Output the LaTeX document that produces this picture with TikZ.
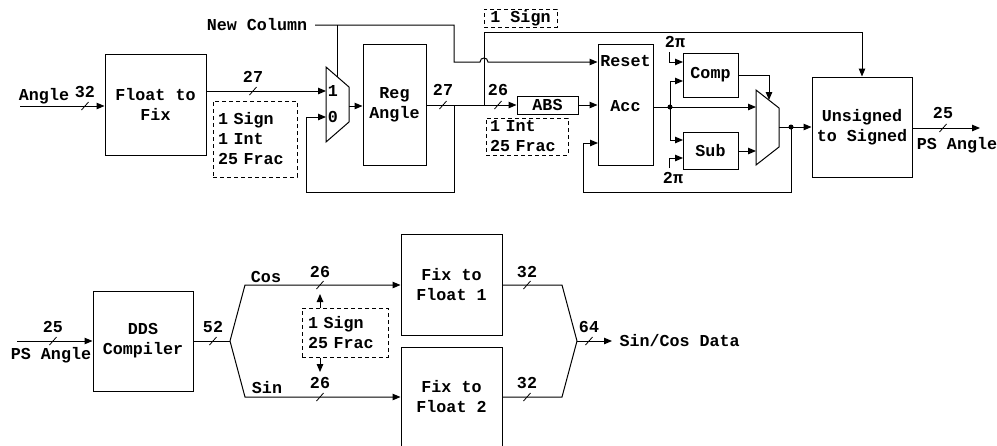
\documentclass[tikz,border=0pt]{standalone}
\usepackage{fontspec}
\setmainfont{Liberation Mono}
\usetikzlibrary{arrows.meta}
\newcommand\diagfont{\fontsize{16.7}{20}\selectfont\bfseries}
\tikzset{
  slash/.pic={\draw[line width=0.8pt] (-3.5,4) -- (3.5,-4);},
}
\begin{document}
\begin{tikzpicture}[x=1pt,y=-1pt, line width=1pt,
  every node/.style={font=\diagfont, inner sep=0pt},
  blk/.style={draw, rectangle, align=center},
  dbox/.style={draw, dashed, dash pattern=on 4pt off 3pt, rectangle, align=left},
  arr/.style={-{Triangle[length=8pt,width=6.5pt]}},
  dot/.style={circle, fill, minimum size=5pt, inner sep=0pt}]
\useasboundingbox (0,0) rectangle (997,445);
\clip (0,0) rectangle (997,445);

% ---------------- top chain ----------------
\node[blk, minimum width=101pt, minimum height=101pt] (ftf) at (155.5,104.5) {Float to\\Fix};
\node[blk, minimum width=63pt, minimum height=121pt] (reg) at (394.5,104.5) {Reg\\Angle};
\node[blk, minimum width=61pt, minimum height=18pt] (abs) at (547.5,105) {ABS};
\node[blk, minimum width=55pt, minimum height=121pt] (acc) at (625.5,104.5) {};
\node (reset) at (625.5,61) {Reset};
\node (acct) at (625.5,106) {Acc};
\node[blk, minimum width=55pt, minimum height=44pt] (comp) at (710.5,75) {Comp};
\node[blk, minimum width=55pt, minimum height=37pt] (sub) at (710.5,150.5) {Sub};
\node[blk, minimum width=100pt, minimum height=100pt] (uns) at (862,127) {Unsigned\\to Signed};

\node[dbox, minimum width=84pt, minimum height=76pt, text width=74pt] (d1) at (255,139) {1 Sign\\1 Int\\25 Frac};
\node[dbox, minimum width=73pt, minimum height=18pt] (d2) at (520.5,18) {1 Sign};
\node[dbox, minimum width=82pt, minimum height=37pt, text width=74pt] (d3) at (527,136.5) {1 Int\\25 Frac};

% mux 1
\draw (326,67) -- (349,87) -- (349,122) -- (326,142) -- cycle;
\coordinate (m1a) at (326,91);
\coordinate (m1b) at (326,117);
\coordinate (m1o) at (349,106);
\coordinate (m1t) at (337,76.6);
\node (m1l1) at (333,91) {1};
\node (m1l0) at (333,117) {0};

% mux 2
\draw (756,90) -- (779,108) -- (779,147) -- (756,165) -- cycle;
\coordinate (m2t) at (769,100);
\coordinate (m2o) at (779,127);

% labels
\node (angle) at (44,96) {Angle};
\coordinate (angin) at (20,106);
\node (n32a) at (85,92) {32};
\node (newcol) at (257,25) {New Column};
\node (n27a) at (253,77) {27};
\node (n27b) at (443,90) {27};
\node (n26a) at (498,90) {26};
\node (pi1) at (675,42) {2π};
\node (pi2) at (673,178) {2π};
\node (n25a) at (943,113) {25};
\node (psout) at (957,145) {PS Angle};

% connectors
\draw[arr] (angin) -- (angin -| ftf.west);
\pic at (85,106) {slash};
\draw[arr] (ftf.east |- m1a) -- (m1a);
\pic at (253,91) {slash};
\draw[arr] (m1o) -- (m1o -| reg.west);

\coordinate (nc0) at (315,25);
\coordinate (nc1) at (454,25);
\coordinate (nc2) at (454,62);
\draw[arr] (nc0) -- (nc1) -- (nc2) -- (480,62) .. controls (480,56.7) and (488,56.7) .. (488,62) -- (nc2 -| acc.west);
\draw (337,25) -- (m1t);

\coordinate (ro) at (426,105);
\draw[arr] (ro) -- (abs.west);
\pic at (443,105) {slash};
\pic at (498,105) {slash};
\draw[arr] (454,105) -- (454,192) -- (306,192) -- (306,117) -- (m1b);
\draw[arr] (484,105) -- (484,32) -- (862,32) -- (uns.north);

\draw[arr] (abs.east) -- (abs.east -| acc.west);
\coordinate (ao) at (653,107);
\draw[arr] (ao) -- (756,107);
\node[dot] (d670) at (670,107) {};
\draw[arr] (670,107) -- (670,81) -- (683,81);
\draw[arr] (670,107) -- (670,140) -- (683,140);
\draw[arr] (669,52) -- (669,62) -- (683,62);
\draw[arr] (669,168) -- (669,158) -- (683,158);
\draw[arr] (comp.east) -- (769,75) -- (m2t);
\draw[arr] (sub.east |- 0,151) -- (756,151);
\draw[arr] (m2o) -- (m2o -| uns.west);
\node[dot] (d791) at (791,127) {};
\draw[arr] (791,127) -- (791,192) -- (583,192) -- (583,143) -- (598,143);
\draw[arr] (uns.east |- 0,128) -- (980,128);
\pic at (943,128) {slash};

% ---------------- bottom chain ----------------
\node[blk, minimum width=100pt, minimum height=100pt] (dds) at (143,341) {DDS\\Compiler};
\node[blk, minimum width=101pt, minimum height=101pt] (fx1) at (451.5,284.5) {Fix to\\Float 1};
\node[blk, minimum width=101pt, minimum height=101pt] (fx2) at (451.5,397.5) {};
\node[align=center] (fx2t) at (451.5,397) {Fix to\\Float 2};
\node[dbox, minimum width=86pt, minimum height=49pt, text width=74pt] (d4) at (345,332.5) {1 Sign\\25 Frac};

\coordinate (psin) at (17,341);
\node (n25b) at (53,327) {25};
\node (psin_t) at (51,355) {PS Angle};
\draw[arr] (psin) -- (dds.west);
\pic at (53,341) {slash};

\node (n52) at (213,327) {52};
\coordinate (sp) at (230,341);
\draw (dds.east) -- (sp);
\pic at (213,341) {slash};
\draw[arr] (sp) -- (245,285) -- (fx1.west |- 0,285);
\draw[arr] (sp) -- (245,397) -- (fx2.west |- 0,397);
\node (cos) at (266,277) {Cos};
\node (sin) at (267,388) {Sin};
\node (n26b) at (320,272) {26};
\node (n26c) at (320,383) {26};
\pic at (320,285) {slash};
\pic at (320,397) {slash};
\draw[arr] (d4.north -| 320,0) -- (320,294);
\draw[arr] (d4.south -| 320,0) -- (320,372);

\coordinate (jn) at (577,341);
\draw (fx1.east |- 0,285) -- (562,285) -- (jn);
\draw (fx2.east |- 0,397) -- (562,397) -- (jn);
\draw[arr] (jn) -- (612,341);
\node (n32b) at (527,272) {32};
\node (n32c) at (527,383) {32};
\node (n64) at (589,327) {64};
\pic at (527,285) {slash};
\pic at (527,397) {slash};
\pic at (589,341) {slash};
\node[anchor=west] (scd) at (619,341) {Sin/Cos Data};
\end{tikzpicture}
\end{document}
